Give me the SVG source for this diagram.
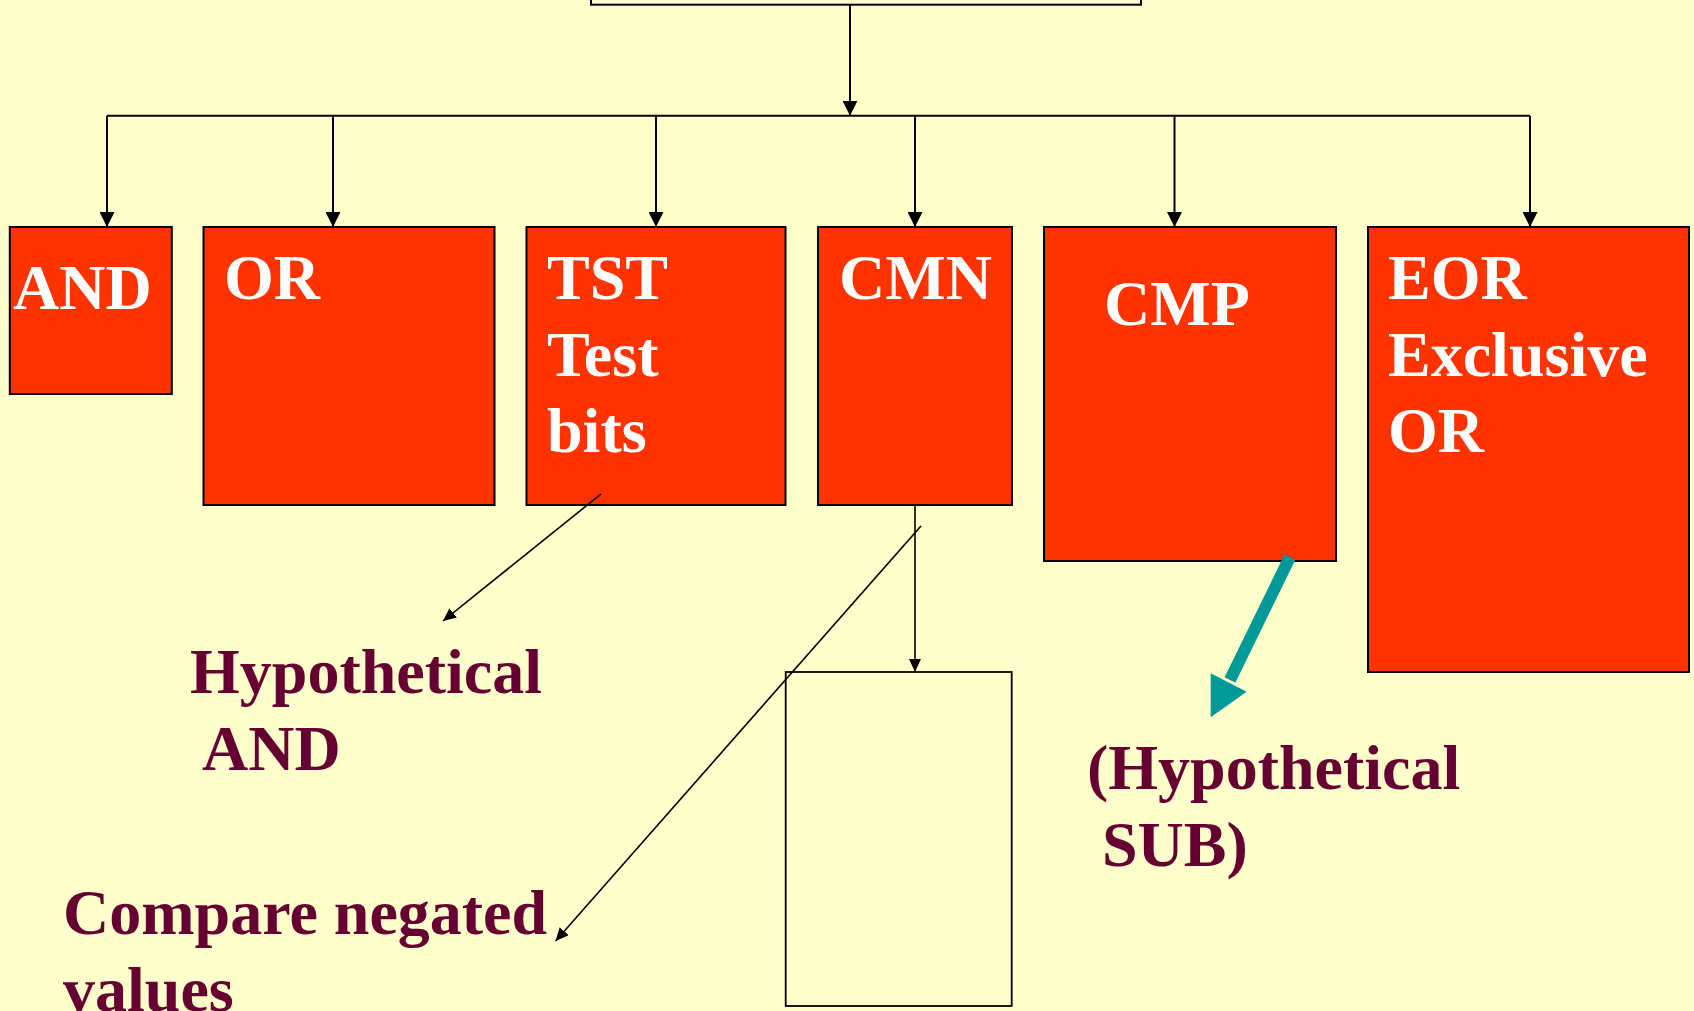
<svg xmlns="http://www.w3.org/2000/svg" width="1694" height="1011" viewBox="0 0 1694 1011">
<defs>
<style>
.box{fill:#FF3300;stroke:#000;stroke-width:2}
.empty{fill:#FFFFCC;stroke:#000;stroke-width:1.8}
.lbl{font-family:"Liberation Serif","Times New Roman",serif;font-weight:bold;font-size:64px;fill:#FFFFFF}
.note{font-family:"Liberation Serif","Times New Roman",serif;font-weight:bold;font-size:64px;fill:#660033}
.conn{fill:none;stroke:#000;stroke-width:2}
.thin{fill:none;stroke:#000;stroke-width:1.6}
</style>
<marker id="ah" markerUnits="userSpaceOnUse" markerWidth="16" markerHeight="15" refX="15" refY="7.5" orient="auto">
<path d="M0,0 L15,7.5 L0,15 z" fill="#000"/>
</marker>
<marker id="ahs" markerUnits="userSpaceOnUse" markerWidth="14" markerHeight="12" refX="13" refY="6" orient="auto">
<path d="M0,0 L13,6 L0,12 z" fill="#000"/>
</marker>
</defs>
<rect x="0" y="0" width="1694" height="1011" fill="#FFFFCC"/>

<g id="top">
<rect class="empty" x="591" y="-20" width="550" height="24.7" style="stroke-width:2"/>
</g>
<g id="and">
<rect class="box" x="9.8" y="227" width="162" height="167"/>
<text class="lbl" x="13" y="309">AND</text>
</g>
<g id="or">
<rect class="box" x="203.5" y="227" width="291" height="278"/>
<text class="lbl" x="224" y="299">OR</text>
</g>
<g id="tst">
<rect class="box" x="526.5" y="227" width="259" height="278"/>
<text class="lbl" x="547" y="299">TST</text>
<text class="lbl" x="547" y="376">Test</text>
<text class="lbl" x="547" y="452">bits</text>
</g>
<g id="cmn">
<rect class="box" x="818" y="227" width="194" height="278"/>
<text class="lbl" x="839" y="299">CMN</text>
</g>
<g id="cmp">
<rect class="box" x="1044" y="227" width="292" height="334"/>
<text class="lbl" x="1104" y="325">CMP</text>
</g>
<g id="eor">
<rect class="box" x="1368" y="227" width="321" height="445"/>
<text class="lbl" x="1388" y="299">EOR</text>
<text class="lbl" x="1388" y="376">Exclusive</text>
<text class="lbl" x="1388" y="452">OR</text>
</g>
<g id="result">
<rect class="empty" x="785.7" y="672" width="226" height="334"/>
</g>
<g id="note-and">
<text class="note" x="190" y="693">Hypothetical</text>
<text class="note" x="202" y="770">AND</text>
</g>
<g id="note-cmn">
<text class="note" x="63" y="934">Compare negated</text>
<text class="note" x="63" y="1011">values</text>
</g>
<g id="note-sub">
<text class="note" x="1087" y="789">(Hypothetical</text>
<text class="note" x="1102" y="866">SUB)</text>
</g>

<g id="connectors">
<line class="conn" x1="850" y1="4.7" x2="850" y2="115.7" marker-end="url(#ah)"/>
<line class="conn" x1="107" y1="115.7" x2="1530" y2="115.7"/>
<line class="conn" x1="107" y1="115.7" x2="107" y2="227" marker-end="url(#ah)"/>
<line class="conn" x1="333" y1="115.7" x2="333" y2="227" marker-end="url(#ah)"/>
<line class="conn" x1="656" y1="115.7" x2="656" y2="227" marker-end="url(#ah)"/>
<line class="conn" x1="915" y1="115.7" x2="915" y2="227" marker-end="url(#ah)"/>
<line class="conn" x1="1174.5" y1="115.7" x2="1174.5" y2="227" marker-end="url(#ah)"/>
<line class="conn" x1="1530" y1="115.7" x2="1530" y2="227" marker-end="url(#ah)"/>
<line class="thin" x1="915" y1="505" x2="915" y2="672" marker-end="url(#ahs)"/>
<line class="thin" x1="601" y1="494" x2="443" y2="621" marker-end="url(#ahs)"/>
<line class="thin" x1="921" y1="526" x2="555.6" y2="941" marker-end="url(#ahs)"/>
<line x1="1290" y1="557" x2="1230" y2="680" stroke="#009999" stroke-width="12"/>
<polygon points="1210.7,717.3 1210.7,673.3 1246.7,691.7" fill="#009999"/>
</g>
</svg>
